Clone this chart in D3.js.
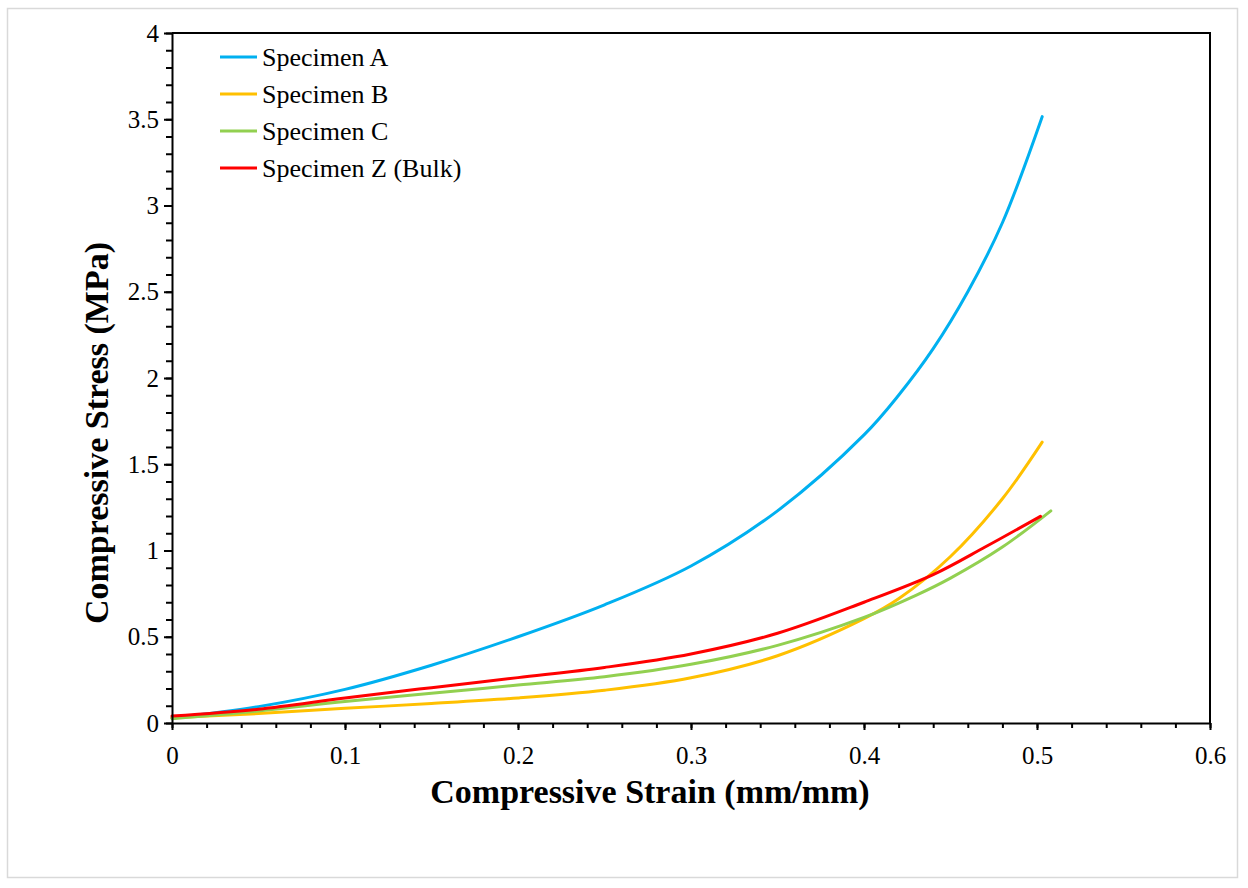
<!DOCTYPE html>
<html>
<head>
<meta charset="utf-8">
<script src="https://cdn.jsdelivr.net/npm/d3@7/dist/d3.min.js"></script>
<style>
  body { margin: 0; background: #fff; }
  svg { font-family: "Liberation Serif", "Times New Roman", serif; }
</style>
</head>
<body>
<svg width="1248" height="888"></svg>
<script>
// 数据准备
var seriesNames = ['Specimen A', 'Specimen B', 'Specimen C', 'Specimen Z (Bulk)']

var strainA = [0, 0.05, 0.1, 0.15, 0.2, 0.25, 0.3, 0.35, 0.4, 0.42, 0.44, 0.46, 0.48, 0.503]
var stressA = [0.03, 0.095, 0.195, 0.335, 0.5, 0.685, 0.91, 1.23, 1.67, 1.9, 2.17, 2.5, 2.9, 3.515]

var strainB = [0, 0.05, 0.1, 0.15, 0.2, 0.25, 0.3, 0.35, 0.4, 0.42, 0.45, 0.48, 0.503]
var stressB = [0.03, 0.055, 0.085, 0.113, 0.145, 0.19, 0.262, 0.39, 0.605, 0.72, 0.965, 1.3, 1.628]

var strainC = [0, 0.05, 0.1, 0.15, 0.2, 0.25, 0.3, 0.35, 0.4, 0.43, 0.45, 0.48, 0.508]
var stressC = [0.025, 0.07, 0.125, 0.172, 0.22, 0.268, 0.34, 0.45, 0.612, 0.74, 0.84, 1.02, 1.23]

var strainZ = [0, 0.05, 0.1, 0.15, 0.2, 0.25, 0.3, 0.35, 0.4, 0.44, 0.47, 0.502]
var stressZ = [0.04, 0.08, 0.145, 0.205, 0.263, 0.322, 0.4, 0.52, 0.7, 0.86, 1.02, 1.198]

var xTicks = [0, 0.1, 0.2, 0.3, 0.4, 0.5, 0.6]
var yTicks = [0, 0.5, 1, 1.5, 2, 2.5, 3, 3.5, 4]

var colors = ['#00B0F0', '#FFC000', '#92D050', '#FF0000']

var series = [
    { name: seriesNames[0], x: strainA, y: stressA },
    { name: seriesNames[1], x: strainB, y: stressB },
    { name: seriesNames[2], x: strainC, y: stressC },
    { name: seriesNames[3], x: strainZ, y: stressZ }
]

// 画布
var svg = d3.select('svg')

// 外框
svg.append('rect')
    .attr('x', 7.5).attr('y', 8.5)
    .attr('width', 1230).attr('height', 869)
    .attr('fill', 'none')
    .attr('stroke', '#d9d9d9')
    .attr('stroke-width', 1.5)

var pLeft = 172, pRight = 1210, pTop = 33, pBottom = 723

var x = d3.scaleLinear().domain([0, 0.6]).range([pLeft, pRight])
var y = d3.scaleLinear().domain([0, 4]).range([pBottom, pTop])

// 曲线
var line = d3.line()
    .x(d => x(d[0]))
    .y(d => y(d[1]))
    .curve(d3.curveCatmullRom.alpha(0.5))

svg.selectAll('path.series').data(series).enter().append('path')
    .attr('class', 'series')
    .attr('d', d => line(d.x.map((v, i) => [v, d.y[i]])))
    .attr('fill', 'none')
    .attr('stroke', (_, i) => colors[i])
    .attr('stroke-width', 3)
    .attr('stroke-linecap', 'round')

// 上边和右边
svg.append('path')
    .attr('d', 'M' + pLeft + ',' + pTop + 'H' + pRight + 'V' + pBottom)
    .attr('fill', 'none')
    .attr('stroke', '#000')
    .attr('stroke-width', 2)

// 次刻度
svg.append('g')
    .attr('transform', 'translate(0,' + pBottom + ')')
    .call(d3.axisBottom(x).tickValues(d3.range(0, 0.6001, 0.02)).tickSize(5).tickFormat(''))
    .call(g => g.select('.domain').remove())
    .selectAll('line').attr('stroke-width', 2)

svg.append('g')
    .attr('transform', 'translate(' + pLeft + ',0)')
    .call(d3.axisLeft(y).tickValues(d3.range(0, 4.001, 0.1)).tickSize(6).tickFormat(''))
    .call(g => g.select('.domain').remove())
    .selectAll('line').attr('stroke-width', 2)

// 主刻度
var xAxis = svg.append('g')
    .attr('transform', 'translate(0,' + pBottom + ')')
    .call(d3.axisBottom(x).tickValues(xTicks).tickSize(7).tickSizeOuter(0).tickPadding(16).tickFormat(d3.format('')))
xAxis.select('.domain').attr('stroke-width', 2)
xAxis.selectAll('line').attr('stroke-width', 2)
xAxis.selectAll('text')
    .attr('font-family', '"Liberation Serif", serif')
    .attr('font-size', 25)
    .attr('fill', '#000')

var yAxis = svg.append('g')
    .attr('transform', 'translate(' + pLeft + ',0)')
    .call(d3.axisLeft(y).tickValues(yTicks).tickSize(8).tickSizeOuter(0).tickPadding(5).tickFormat(d3.format('')))
yAxis.select('.domain').attr('stroke-width', 2)
yAxis.selectAll('line').attr('stroke-width', 2)
yAxis.selectAll('text')
    .attr('font-family', '"Liberation Serif", serif')
    .attr('font-size', 25)
    .attr('fill', '#000')

// 轴标题
svg.append('text')
    .attr('x', 650).attr('y', 803)
    .attr('text-anchor', 'middle')
    .attr('font-size', 34)
    .attr('font-weight', 'bold')
    .text('Compressive Strain (mm/mm)')

svg.append('text')
    .attr('transform', 'translate(108,433) rotate(-90)')
    .attr('text-anchor', 'middle')
    .attr('font-size', 34)
    .attr('font-weight', 'bold')
    .text('Compressive Stress (MPa)')

// 图例
var legend = svg.selectAll('g.legend').data(seriesNames).enter().append('g')
    .attr('class', 'legend')
    .attr('transform', (_, i) => 'translate(220,' + (57 + i * 37) + ')')

legend.append('line')
    .attr('x1', 0).attr('x2', 37)
    .attr('stroke', (_, i) => colors[i])
    .attr('stroke-width', 3)

legend.append('text')
    .attr('x', 42).attr('y', 9)
    .attr('font-size', 26)
    .text(d => d)
</script>
</body>
</html>
